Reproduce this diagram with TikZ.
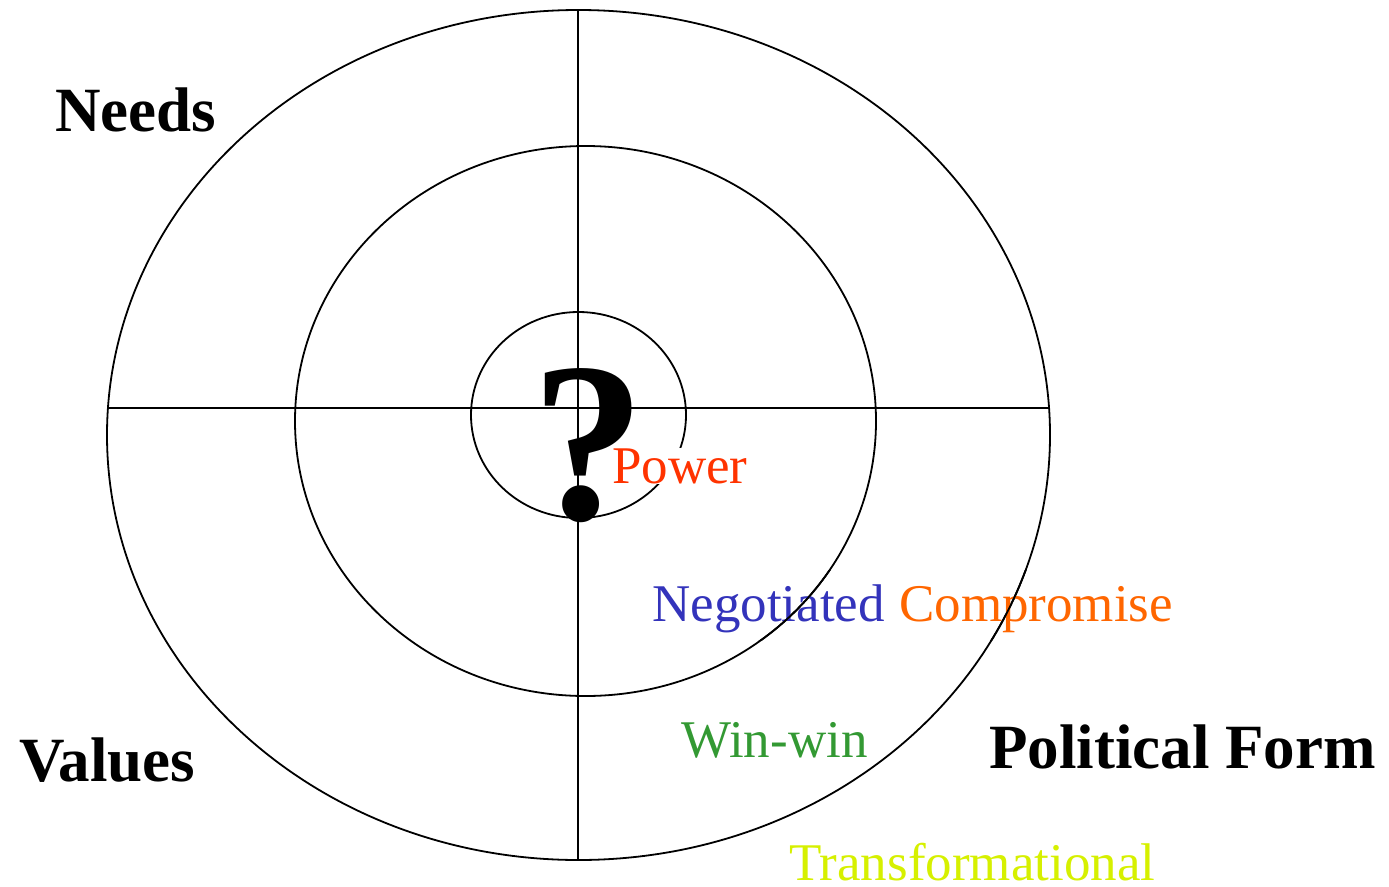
\documentclass[tikz,border=0pt]{standalone}
\usepackage{fontspec}
\setmainfont{Liberation Serif}
\definecolor{powc}{RGB}{255,51,0}
\definecolor{negc}{RGB}{51,51,187}
\definecolor{comc}{RGB}{255,102,0}
\definecolor{winc}{RGB}{51,153,51}
\definecolor{trac}{RGB}{214,240,0}
\tikzset{
  ring/.style={line width=1.8pt},
  axis/.style={line width=2.4pt},
  lbl/.style={anchor=base west, inner sep=0pt, font=\fontsize{53}{60}\selectfont},
  big/.style={anchor=base west, inner sep=0pt, font=\fontsize{63}{70}\selectfont\bfseries},
}
\begin{document}
\begin{tikzpicture}[x=1pt,y=-1pt]
\useasboundingbox (0,0) rectangle (1389,886);
% rings
\draw[ring] (578.5,435) ellipse [x radius=471.5, y radius=425];
\draw[ring] (585.5,421) ellipse [x radius=290.5, y radius=275];
\draw[ring] (578.5,415) ellipse [x radius=107.5, y radius=103];
% axes
\coordinate (L) at (107,408);
\coordinate (R) at (1050,408);
\coordinate (T) at (578,10);
\coordinate (B) at (578,860);
\draw[axis] (L) -- (R);
\draw[axis] (T) -- (B);
% labels
\node[lbl, fill=white, text=powc] (power) at (612,483) {Power};
\node[anchor=base, inner sep=0pt, font=\fontsize{228}{240}\selectfont\bfseries] (q) at (588,519) {?};
\node[lbl, text=negc] (neg) at (652,621) {Negotiated};
\node[lbl, text=comc] (com) at (899,621) {Compromise};
\node[lbl, text=winc] (win) at (681,757) {Win-win};
\node[lbl, text=trac] (tra) at (789,880) {Transformational};
\node[big] (needs) at (55,131) {Needs};
\node[big] (values) at (19,781) {Values};
\node[big] (pol) at (989,768) {Political Form};
% ellipse crossing over the blue text
\begin{scope}
\clip (640,570) rectangle (890,640);
\draw[ring] (585.5,421) ellipse [x radius=290.5, y radius=275];
\end{scope}
\begin{scope}
\clip (890,570) rectangle (1180,640);
\draw[ring] (578.5,435) ellipse [x radius=471.5, y radius=425];
\end{scope}
\end{tikzpicture}
\end{document}
